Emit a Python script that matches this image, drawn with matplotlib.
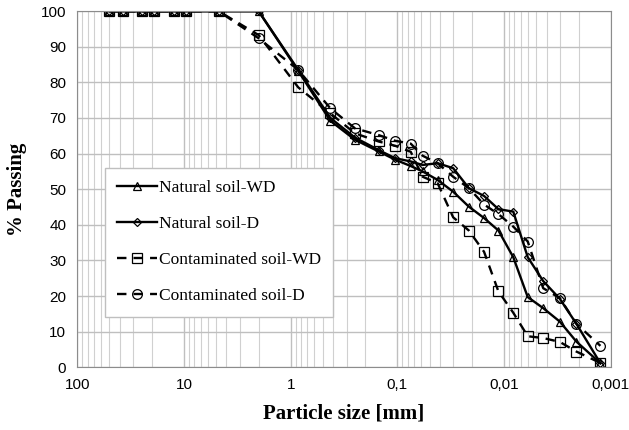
import matplotlib
matplotlib.use("Agg")
import matplotlib.pyplot as plt
from matplotlib.ticker import FixedLocator, LogLocator, NullFormatter

# particle sizes (mm), sieve + hydrometer
size = [50, 37.5, 25, 19, 12.5, 9.5, 4.75, 2, 0.85, 0.425, 0.25, 0.15, 0.105, 0.075,
        0.058, 0.042, 0.030, 0.0214, 0.0154, 0.0113, 0.0082, 0.0060, 0.0043, 0.0030,
        0.0021, 0.00125]

nat_wd = [100, 100, 100, 100, 100, 100, 100, 100, 83.2, 69.2, 63.9, 60.6, 58.3, 56.5,
          55.0, 52.6, 49.3, 45.1, 41.9, 38.4, 30.9, 19.7, 16.6, 12.8, 7.2, 1.1]
nat_d = [100, 100, 100, 100, 100, 100, 100, 100, 83.5, 70.0, 64.5, 61.0, 58.7, 57.8,
         56.8, 57.3, 55.9, 50.3, 48.1, 44.4, 43.7, 30.9, 24.2, 19.2, 12.2, 1.1]
cont_wd = [100, 100, 100, 100, 100, 100, 100, 93.3, 78.6, 71.3, 65.7, 63.4, 62.2, 60.5,
           53.5, 51.7, 42.1, 38.4, 32.4, 21.3, 15.3, 8.7, 8.2, 7.1, 4.4, 1.2]
cont_d = [100, 100, 100, 100, 100, 100, 100, 92.4, 83.5, 72.7, 67.1, 65.2, 63.6, 62.8,
          59.4, 57.3, 53.5, 50.3, 45.7, 43.0, 39.5, 35.3, 22.2, 19.4, 12.2, 6.0]

xticks = [100, 10, 1, 0.1, 0.01, 0.001]
xtick_labels = ["100", "10", "1", "0,1", "0,01", "0,001"]

fig = plt.figure(figsize=(6.29, 4.30), dpi=100)
ax = fig.add_axes([0.123, 0.146, 0.848, 0.828])

ax.plot(size, nat_wd, color="black", lw=1.7, marker="^", ms=6, mfc="none", mec="black",
        mew=0.9, label="Natural soil-WD")
ax.plot(size, nat_d, color="black", lw=1.7, marker="D", ms=4, mfc="none", mec="black",
        mew=0.9, label="Natural soil-D")
ax.plot(size, cont_wd, color="black", lw=1.7, ls=(0, (4, 3)), marker="s", ms=6.5, mfc="none",
        mec="black", mew=0.9, label="Contaminated soil-WD")
ax.plot(size, cont_d, color="black", lw=1.7, ls=(0, (4, 3)), marker="o", ms=7, mfc="none",
        mec="black", mew=0.9, label="Contaminated soil-D")

ax.set_xscale("log")
ax.set_xlim(100, 0.001)
ax.set_ylim(0, 100)
ax.set_yticks(range(0, 101, 10))
ax.xaxis.set_major_locator(FixedLocator(xticks))
ax.set_xticklabels(xtick_labels)
ax.xaxis.set_minor_locator(LogLocator(base=10, subs=range(2, 10), numticks=20))
ax.xaxis.set_minor_formatter(NullFormatter())

ax.grid(True, which="major", color="#bfbfbf", lw=1.0)
ax.grid(True, which="minor", axis="x", color="#d0d0d0", lw=0.8)
ax.set_axisbelow(True)
ax.tick_params(which="both", length=0, labelsize=11, pad=8)
for lab in ax.get_xticklabels() + ax.get_yticklabels():
    lab.set_family(["Liberation Sans", "DejaVu Sans"])
for s in ax.spines.values():
    s.set_color("#8c8c8c")

ax.set_xlabel("Particle size [mm]", family="Liberation Serif", fontweight="bold", fontsize=15,
              labelpad=8)
ax.set_ylabel("% Passing", family="Liberation Serif", fontweight="bold", fontsize=15,
              labelpad=10)

leg = ax.legend(loc="upper left", bbox_to_anchor=(0.052, 0.56), prop={"family": "Liberation Serif",
                "size": 12.5}, labelspacing=1.15, handlelength=2.3, handletextpad=0.1,
                fancybox=False, edgecolor="#bfbfbf", framealpha=1, borderpad=0.7,
                borderaxespad=0)
leg.get_frame().set_linewidth(1.0)

fig.savefig("out.png", dpi=100)
